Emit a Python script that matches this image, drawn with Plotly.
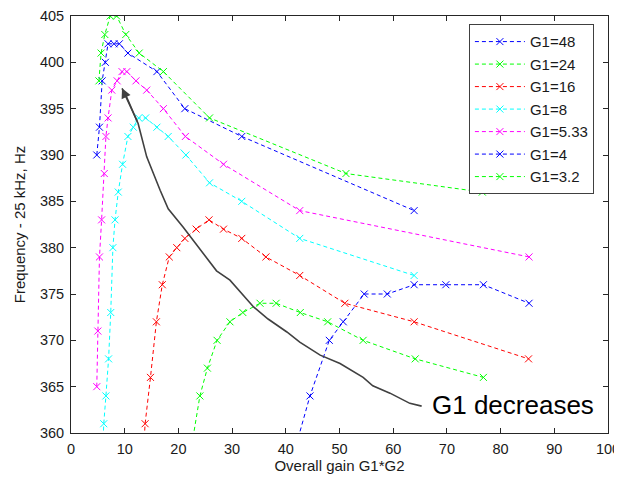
import plotly.graph_objects as go

# ---- data ----
labels = ["G1=48", "G1=24", "G1=16", "G1=8", "G1=5.33", "G1=4", "G1=3.2"]
colors = ["#0000FF", "#00FF00", "#FF0000", "#00FFFF", "#FF00FF", "#0000FF", "#00FF00"]

g48_x = [41.6, 44.5, 48.1, 50.7, 54.6, 58.9, 63.9, 69.8, 76.8, 85.3]
g48_y = [358, 364, 370, 372, 375, 375, 376, 376, 376, 374]

g24_x = [22.3, 24.0, 25.4, 27.2, 29.6, 32.0, 35.2, 38.2, 42.7, 47.8, 54.4, 64.1, 76.8]
g24_y = [358, 364, 367, 370, 372, 373, 374, 374, 373, 372, 370, 368, 366]

g16_x = [13.5, 13.8, 14.8, 15.9, 17.0, 18.3, 19.7, 21.2, 23.3, 25.7, 28.4, 31.8, 36.3, 42.6, 51.0, 63.9, 85.2]
g16_y = [358, 361, 366, 372, 376, 379, 380, 381, 382, 383, 382, 381, 379, 377, 374, 372, 368]

g8_x = [5.9, 6.1, 6.5, 7.0, 7.4, 7.8, 8.2, 8.8, 9.6, 10.6, 11.6, 12.6, 13.9, 16.0, 18.1, 21.4, 25.8, 31.8, 42.6, 63.9]
g8_y = [358, 361, 364, 368, 373, 380, 383, 386, 389, 392, 393, 394, 394, 393, 392, 390, 387, 385, 381, 377]

g533_x = [4.8, 5.0, 5.3, 5.7, 6.2, 6.5, 6.9, 7.6, 8.6, 9.5, 10.4, 12.1, 14.1, 17.2, 21.3, 28.4, 42.6, 85.3]
g533_y = [365, 371, 379, 383, 388, 392, 394, 397, 398, 399, 399, 398, 397, 395, 392, 389, 384, 379]

g4_x = [4.8, 5.3, 5.8, 6.4, 6.9, 8.0, 9.0, 10.6, 16.0, 21.2, 31.8, 63.9]
g4_y = [390, 393, 398, 400, 402, 402, 402, 401, 399, 395, 392, 384]

g32_x = [5.2, 5.6, 6.3, 7.3, 8.5, 10.2, 12.7, 17.2, 25.8, 51.2, 76.6]
g32_y = [398, 401, 403, 405, 405, 403, 401, 399, 394, 388, 386]

series_x = [g48_x, g24_x, g16_x, g8_x, g533_x, g4_x, g32_x]
series_y = [g48_y, g24_y, g16_y, g8_y, g533_y, g4_y, g32_y]

# "G1 decreases" arrow path (data coordinates)
arrow_x = [65.3, 63.1, 59.4, 56.2, 54.4, 50.1, 46.4, 42.6, 40.2, 36.7, 34.0, 31.5, 29.6,
           27.1, 24.6, 22.2, 20.9, 18.1, 16.6, 14.1, 12.5, 10.4, 9.5]
arrow_y = [362.9, 363.2, 364.3, 365.1, 366.0, 367.5, 368.4, 369.8, 370.9, 372.3, 373.6, 375.2, 376.5,
           377.5, 379.4, 381.2, 382.2, 384.2, 386.2, 389.8, 393.4, 396.2, 397.2]
arrow_label = "G1 decreases"
arrow_label_x, arrow_label_y = 82.3, 363.0

x_title = "Overall gain G1*G2"
y_title = "Frequency - 25 kHz, Hz"

FONT = "Liberation Sans, Arial, sans-serif"
TXT = "#1a1a1a"

fig = go.Figure()
for lab, col, xs, ys in zip(labels, colors, series_x, series_y):
    fig.add_trace(go.Scatter(
        x=xs, y=ys, name=lab, mode="lines+markers",
        line=dict(color=col, width=1, dash="4px,3px"),
        marker=dict(symbol="x-thin-open", size=7, color=col, line=dict(width=1, color=col)),
    ))

fig.add_trace(go.Scatter(
    x=arrow_x, y=arrow_y, mode="lines", showlegend=False, hoverinfo="skip",
    line=dict(color="#404040", width=1.6),
))

fig.add_annotation(
    x=arrow_x[-1], y=arrow_y[-1], ax=arrow_x[-3], ay=arrow_y[-3],
    xref="x", yref="y", axref="x", ayref="y",
    text="", showarrow=True, arrowhead=2, arrowsize=1.3, arrowwidth=1.5,
    arrowcolor="#404040", standoff=0,
)
fig.add_annotation(
    x=arrow_label_x, y=arrow_label_y, xref="x", yref="y", text=arrow_label,
    showarrow=False, font=dict(family=FONT, size=26, color="#000000"),
)

axis_common = dict(
    showgrid=False, zeroline=False, showline=True, linecolor="#262626", linewidth=1,
    mirror="ticks", ticks="inside", ticklen=5, tickcolor="#262626", tickwidth=1,
    tickfont=dict(family=FONT, size=14.5, color=TXT), automargin=False,
)

# The page body has an 8px margin, so the figure is sized/offset to fit the 622x477 window.
fig.update_layout(
    width=614, height=469,
    margin=dict(l=63, r=14, t=8, b=44),
    paper_bgcolor="white", plot_bgcolor="white",
    font=dict(family=FONT, color=TXT),
    xaxis=dict(range=[0, 100], dtick=10, tick0=0,
               title=dict(text=x_title, font=dict(family=FONT, size=15, color=TXT), standoff=4),
               ticklabelstandoff=3, **axis_common),
    yaxis=dict(range=[360, 405], dtick=5, tick0=360,
               title=dict(text=y_title, font=dict(family=FONT, size=15, color=TXT), standoff=10),
               ticklabelstandoff=3, **axis_common),
    legend=dict(x=0.741, y=0.98, xanchor="left", yanchor="top",
                bgcolor="white", bordercolor="#404040", borderwidth=1,
                font=dict(family=FONT, size=15, color=TXT), itemwidth=50,
                tracegroupgap=0),
    showlegend=True,
)

fig.write_html("out.html")
